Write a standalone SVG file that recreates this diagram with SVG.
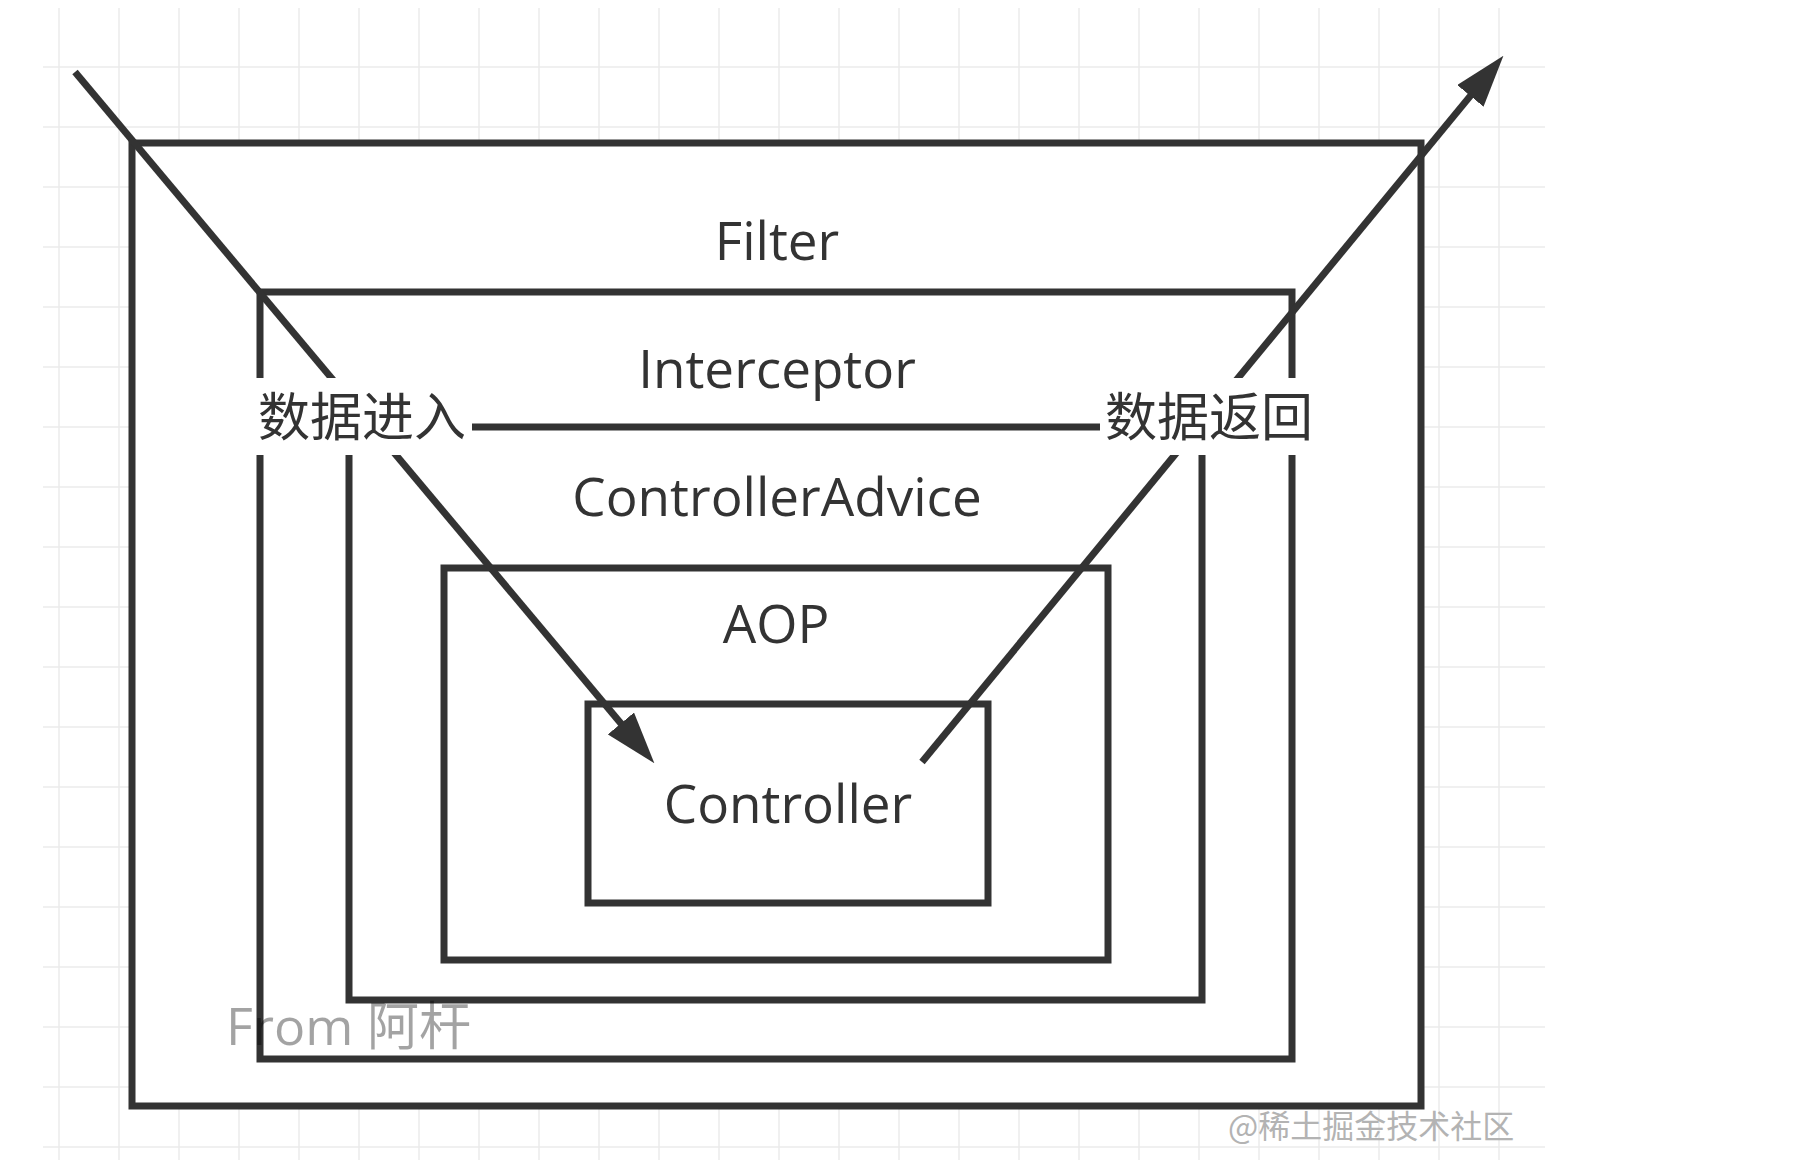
<svg xmlns="http://www.w3.org/2000/svg" width="1808" height="1164" viewBox="0 0 1808 1164">
<style>
.grid line{stroke:#ebebeb;stroke-width:1.5}
.box{fill:#ffffff;stroke:#333333;stroke-width:7}
.lbl{font-family:"Open Sans","Noto Sans CJK SC",sans-serif;font-size:53px;fill:#333333;text-anchor:middle}
.cjk{font-family:"Noto Sans CJK SC","Noto Sans",sans-serif;font-size:52px;fill:#333333;text-anchor:middle}
.conn{stroke:#333333;stroke-width:7;fill:none}
.lblbg{fill:#ffffff}
</style>
<defs>
<marker id="arrow" markerUnits="userSpaceOnUse" viewBox="0 0 52 34" markerWidth="52" markerHeight="34" refX="1" refY="17" orient="auto">
<path d="M0,0 L52,17 L0,34 Z" fill="#333333"/>
</marker>
</defs>
<rect x="0" y="0" width="1808" height="1164" fill="#ffffff"/>
<g class="grid">
<line x1="59" y1="8" x2="59" y2="1160"/><line x1="119" y1="8" x2="119" y2="1160"/><line x1="179" y1="8" x2="179" y2="1160"/><line x1="239" y1="8" x2="239" y2="1160"/><line x1="299" y1="8" x2="299" y2="1160"/><line x1="359" y1="8" x2="359" y2="1160"/><line x1="419" y1="8" x2="419" y2="1160"/><line x1="479" y1="8" x2="479" y2="1160"/><line x1="539" y1="8" x2="539" y2="1160"/><line x1="599" y1="8" x2="599" y2="1160"/><line x1="659" y1="8" x2="659" y2="1160"/><line x1="719" y1="8" x2="719" y2="1160"/><line x1="779" y1="8" x2="779" y2="1160"/><line x1="839" y1="8" x2="839" y2="1160"/><line x1="899" y1="8" x2="899" y2="1160"/><line x1="959" y1="8" x2="959" y2="1160"/><line x1="1019" y1="8" x2="1019" y2="1160"/><line x1="1079" y1="8" x2="1079" y2="1160"/><line x1="1139" y1="8" x2="1139" y2="1160"/><line x1="1199" y1="8" x2="1199" y2="1160"/><line x1="1259" y1="8" x2="1259" y2="1160"/><line x1="1319" y1="8" x2="1319" y2="1160"/><line x1="1379" y1="8" x2="1379" y2="1160"/><line x1="1439" y1="8" x2="1439" y2="1160"/><line x1="1499" y1="8" x2="1499" y2="1160"/>
<line x1="43" y1="67" x2="1545" y2="67"/><line x1="43" y1="127" x2="1545" y2="127"/><line x1="43" y1="187" x2="1545" y2="187"/><line x1="43" y1="247" x2="1545" y2="247"/><line x1="43" y1="307" x2="1545" y2="307"/><line x1="43" y1="367" x2="1545" y2="367"/><line x1="43" y1="427" x2="1545" y2="427"/><line x1="43" y1="487" x2="1545" y2="487"/><line x1="43" y1="547" x2="1545" y2="547"/><line x1="43" y1="607" x2="1545" y2="607"/><line x1="43" y1="667" x2="1545" y2="667"/><line x1="43" y1="727" x2="1545" y2="727"/><line x1="43" y1="787" x2="1545" y2="787"/><line x1="43" y1="847" x2="1545" y2="847"/><line x1="43" y1="907" x2="1545" y2="907"/><line x1="43" y1="967" x2="1545" y2="967"/><line x1="43" y1="1027" x2="1545" y2="1027"/><line x1="43" y1="1087" x2="1545" y2="1087"/><line x1="43" y1="1147" x2="1545" y2="1147"/>
</g>
<text x="1228" y="1138" font-family="'Noto Sans CJK SC','Noto Sans',sans-serif" font-size="32" fill="#b3b3b3">@稀土掘金技术社区</text>
<g id="filter">
<rect class="box" x="132" y="143" width="1289" height="963"/>
<text class="lbl" x="777" y="260">Filter</text>
</g>
<g id="interceptor">
<rect class="box" x="260" y="292" width="1032" height="767"/>
<text class="lbl" x="777" y="388">Interceptor</text>
</g>
<g id="controlleradvice">
<rect class="box" x="349" y="427" width="853" height="573"/>
<text class="lbl" x="777" y="516">ControllerAdvice</text>
</g>
<g id="aop">
<rect class="box" x="444" y="568" width="664" height="392"/>
<text class="lbl" x="776" y="643">AOP</text>
</g>
<g id="controller">
<rect class="box" x="588" y="704" width="400" height="199"/>
<text class="lbl" x="788" y="823">Controller</text>
</g>
<g id="connectors">
<line class="conn" x1="75" y1="72" x2="621.6" y2="724.2" marker-end="url(#arrow)"/>
<line class="conn" x1="922" y1="762" x2="1471" y2="95.1" marker-end="url(#arrow)"/>
</g>
<g id="label-in">
<rect class="lblbg" x="250" y="378" width="222" height="77"/>
<text class="cjk" x="362" y="436">数据进入</text>
</g>
<g id="label-out">
<rect class="lblbg" x="1100" y="378" width="218" height="77"/>
<text class="cjk" x="1209" y="436">数据返回</text>
</g>
<text x="226" y="1045" font-family="'Open Sans','Noto Sans CJK SC',sans-serif" font-size="52" fill="#000000" fill-opacity="0.36">From 阿杆</text>
</svg>
